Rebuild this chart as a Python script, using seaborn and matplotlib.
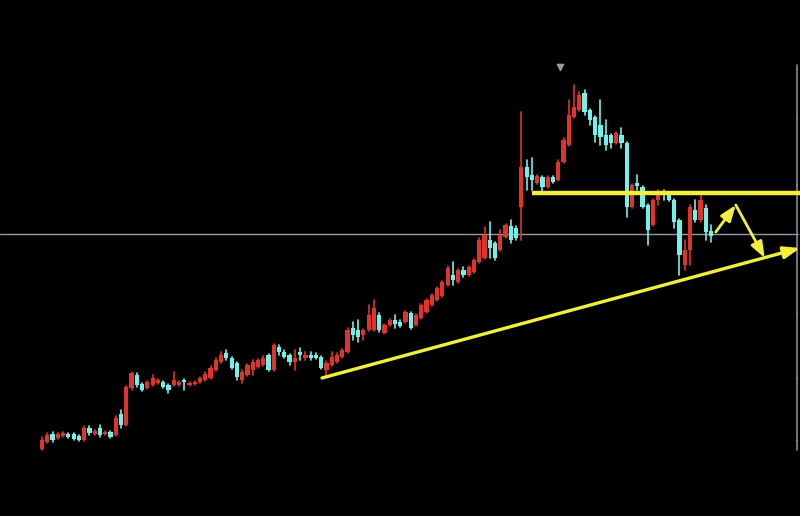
import numpy as np
import pandas as pd
import matplotlib
matplotlib.use("Agg")
import matplotlib.pyplot as plt
import seaborn as sns

# ---- candle data (price units) ----
opens = [67, 74, 82, 78, 80, 82, 82, 80, 76, 88, 82, 88, 82, 84, 81, 102, 91, 128, 141, 132,
         128, 131, 133, 134, 131, 131, 131, 136, 131, 132, 134, 136, 138, 146, 154, 163, 158, 153, 136, 141,
         146, 149, 151, 161, 146, 169, 164, 161, 154, 164, 158, 161, 161, 159, 146, 151, 154, 159, 164, 188,
         186, 181, 186, 186, 201, 183, 191, 196, 194, 194, 203, 191, 198, 204, 211, 216, 220, 231, 241, 234,
         246, 241, 244, 254, 258, 276, 273, 266, 279, 290, 288, 309, 349, 341, 333, 339, 329, 339, 336, 354,
         371, 399, 406, 423, 406, 399, 391, 381, 381, 373, 381, 373, 309, 333, 329, 311, 291, 316, 324, 321,
         316, 296, 251, 266, 306, 296, 308, 285]
closes = [76, 81, 76, 82, 83, 79, 77, 76, 88, 83, 85, 81, 84, 79, 98, 91, 129, 143, 131, 126,
          134, 138, 136, 129, 126, 136, 134, 134, 133, 134, 138, 142, 148, 156, 161, 158, 148, 139, 144, 151,
          154, 156, 158, 146, 171, 164, 159, 154, 158, 161, 161, 158, 158, 148, 153, 159, 161, 166, 186, 181,
          179, 186, 201, 208, 186, 191, 196, 192, 190, 204, 188, 201, 211, 216, 221, 228, 234, 248, 236, 246,
          241, 249, 256, 276, 281, 268, 258, 281, 291, 276, 278, 349, 339, 336, 340, 329, 339, 334, 354, 376,
          401, 409, 421, 404, 396, 381, 379, 371, 373, 383, 373, 309, 331, 330, 309, 286, 316, 324, 321, 316,
          294, 261, 266, 309, 296, 316, 284, 280]
highs = [79, 83, 84, 83, 84, 83, 83, 81, 90, 90, 86, 91, 85, 85, 100, 106, 130, 144, 143, 133,
         135, 141, 137, 135, 132, 144, 135, 137, 134, 135, 139, 144, 150, 158, 164, 166, 159, 154, 146, 152,
         156, 157, 160, 162, 172, 171, 166, 162, 166, 168, 164, 164, 163, 160, 155, 164, 163, 167, 188, 194,
         196, 187, 211, 216, 203, 192, 197, 201, 196, 205, 204, 202, 212, 217, 222, 229, 235, 250, 254, 247,
         249, 250, 257, 278, 289, 294, 274, 286, 292, 296, 290, 404, 356, 358, 341, 340, 340, 340, 356, 378,
         416, 431, 424, 426, 407, 400, 416, 396, 382, 384, 388, 374, 332, 341, 330, 312, 317, 326, 326, 322,
         317, 297, 276, 311, 316, 321, 311, 291]
lows = [66, 73, 74, 77, 79, 78, 76, 75, 75, 81, 81, 79, 81, 78, 80, 88, 90, 126, 129, 125,
        127, 130, 132, 128, 123, 130, 130, 126, 130, 131, 133, 135, 137, 145, 153, 156, 147, 136, 133, 140,
        141, 148, 150, 145, 145, 161, 158, 151, 146, 156, 156, 156, 157, 147, 139, 150, 153, 158, 163, 176,
        174, 176, 185, 185, 184, 182, 190, 188, 189, 193, 187, 190, 197, 203, 210, 215, 219, 230, 231, 233,
        239, 240, 243, 253, 257, 258, 256, 265, 278, 273, 276, 276, 326, 326, 332, 324, 328, 333, 335, 353,
        370, 398, 405, 401, 391, 374, 371, 366, 368, 372, 368, 299, 308, 326, 308, 271, 290, 311, 316, 315,
        288, 241, 246, 251, 294, 294, 276, 274]

ref_level = [282]                 # grey horizontal reference line
resist_x = [93.0, 144.5]          # yellow horizontal line (candle index)
resist_y = [323, 323]
trend_x = [53.15, 143.9]          # yellow rising trend line
trend_y = [138, 268]
arrow1 = [(127.9, 284), (131.7, 311)]
arrow2 = [(131.7, 311), (137.2, 258)]
peak_marker = [(98.3, 449)]

UP = "#e0332b"
DOWN = "#74f0ea"
YEL = "#f2ee3c"

df = pd.DataFrame({"open": opens, "close": closes, "high": highs, "low": lows})
df["i"] = np.arange(len(df))
df["dir"] = np.where(df["close"] >= df["open"], "up", "down")

sns.set_theme(style="dark")
fig = plt.figure(figsize=(8.0, 5.16), dpi=100, facecolor="black")
ax = fig.add_axes([0, 0, 1, 1])
ax.set_facecolor("black")

# wicks via seaborn
wick = pd.concat([
    df[["i", "dir"]].assign(price=df["high"]),
    df[["i", "dir"]].assign(price=df["low"]),
])
sns.lineplot(data=wick, x="i", y="price", units="i", estimator=None, hue="dir",
             palette={"up": UP, "down": DOWN}, legend=False, lw=1.2, ax=ax, zorder=3)

# bodies
bottom = np.minimum(df["open"], df["close"])
height = np.maximum(np.abs(df["close"] - df["open"]), 2.0)
colors = [UP if d == "up" else DOWN for d in df["dir"]]
ax.bar(df["i"], height, bottom=bottom, width=0.8, color=colors, edgecolor="none", zorder=4)

# grey reference line and right axis
ax.axhline(ref_level[0], xmin=0, xmax=0.997, color="#9a9aa6", lw=1.0, zorder=1)
ax.plot([143.4, 143.4], [66, 451], color="#8c8c94", lw=1.2, zorder=1)
for ty in [118, 185, 313, 378, 440]:
    ax.plot([143.1, 143.4], [516 - ty, 516 - ty], color="#8c8c94", lw=1.0)

# peak marker
ax.scatter([p[0] for p in peak_marker], [p[1] for p in peak_marker],
           marker="v", s=20, color="#9a9a9a", zorder=5)

# yellow annotations
ax.plot(resist_x, resist_y, color=YEL, lw=3.2, solid_capstyle="butt", zorder=6)
ax.annotate("", xy=(trend_x[1], trend_y[1]), xytext=(trend_x[0], trend_y[0]),
            arrowprops=dict(arrowstyle="-|>,head_length=0.8,head_width=0.3",
                            color=YEL, lw=2.4, shrinkA=0, shrinkB=0), zorder=6)
for a in (arrow1, arrow2):
    ax.annotate("", xy=a[1], xytext=a[0],
                arrowprops=dict(arrowstyle="-|>,head_length=0.8,head_width=0.3",
                                color=YEL, lw=2.0, shrinkA=0, shrinkB=0), zorder=6)

ax.set_xlim(-42 / 5.268, (800 - 42) / 5.268)
ax.set_ylim(0, 516)
ax.set_xticks([])
ax.set_yticks([])
ax.set_xlabel("")
ax.set_ylabel("")
ax.grid(False)
for s in ax.spines.values():
    s.set_visible(False)

fig.savefig("out.png", dpi=100, facecolor="black")
